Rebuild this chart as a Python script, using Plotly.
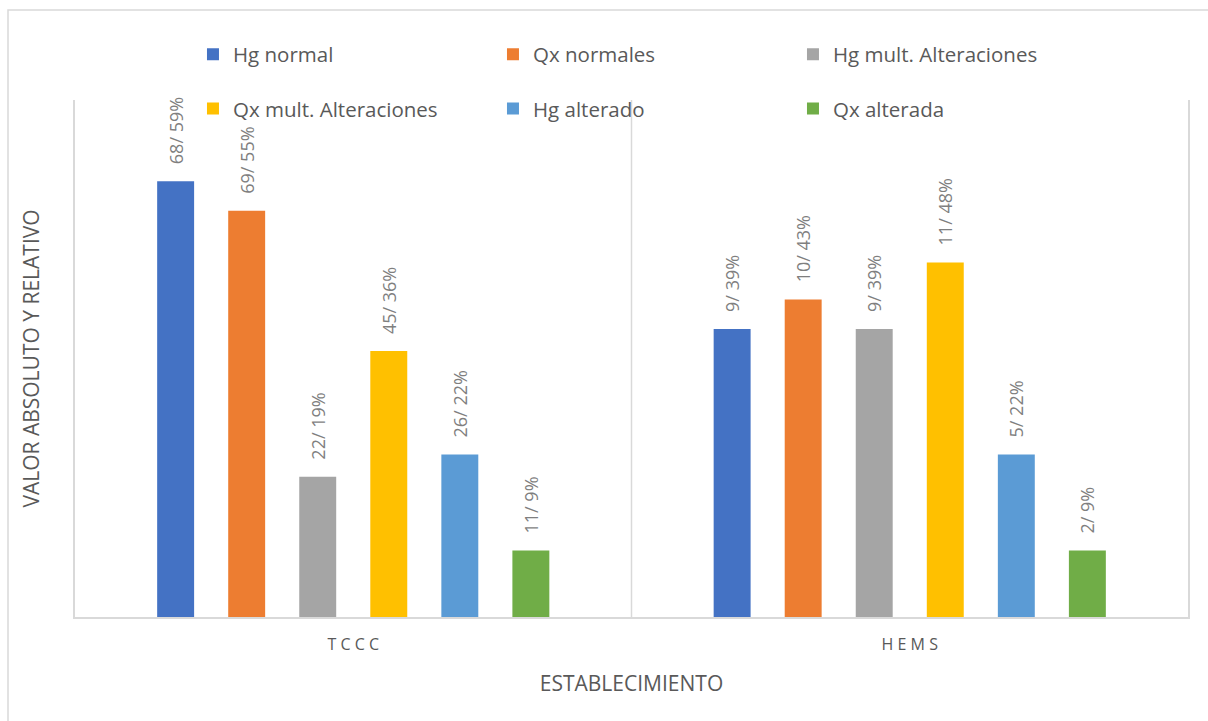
import plotly.graph_objects as go

# Establishments on the category axis
categories = ["TCCC", "HEMS"]
category_labels = ["T C C C", "H E M S"]

# Series names, absolute counts and relative percentages per establishment
series_names = [
    "Hg normal",
    "Qx normales",
    "Hg mult. Alteraciones",
    "Qx mult. Alteraciones",
    "Hg alterado",
    "Qx alterada",
]
counts = [
    [68, 9],
    [69, 10],
    [22, 9],
    [45, 11],
    [26, 5],
    [11, 2],
]
percents = [
    [59, 39],
    [55, 43],
    [19, 39],
    [36, 48],
    [22, 22],
    [9, 9],
]
colors = ["#4472C4", "#ED7D31", "#A5A5A5", "#FFC000", "#5B9BD5", "#70AD47"]

FONT = "Open Sans"
GREY = "#595959"

fig = go.Figure()
for i, name in enumerate(series_names):
    labels = ["\u00a0\u00a0\u00a0%d/ %d%%" % (c, p) for c, p in zip(counts[i], percents[i])]
    fig.add_trace(go.Bar(
        name=name,
        x=categories,
        y=percents[i],
        marker=dict(color=colors[i], line=dict(width=0)),
        text=labels,
        textposition="outside",
        textangle=-90,
        textfont=dict(family=FONT, size=18, color="#7F7F7F"),
        constraintext="none",
        cliponaxis=False,
        legend="legend" if i < 3 else "legend2",
    ))

legend_style = dict(
    orientation="h",
    font=dict(family=FONT, size=20.5, color=GREY),
    entrywidth=255,
    entrywidthmode="pixels",
    bgcolor="rgba(0,0,0,0)",
    xanchor="left",
    yanchor="middle",
    traceorder="normal",
)

fig.update_layout(
    width=1208,
    height=721,
    margin=dict(l=75, r=20, t=100, b=104),
    paper_bgcolor="white",
    plot_bgcolor="white",
    barmode="group",
    bargap=0.234,
    bargroupgap=0.48,
    showlegend=True,
    legend=dict(x=0.106, y=1.088, **legend_style),
    legend2=dict(x=0.106, y=0.983, **legend_style),
    xaxis=dict(
        tickmode="array",
        tickvals=categories,
        ticktext=category_labels,
        tickfont=dict(family=FONT, size=16, color=GREY),
        ticklabelstandoff=12,
        showline=True,
        linecolor="#D9D9D9",
        linewidth=1.5,
        showgrid=False,
        ticks="",
        title=dict(text="ESTABLECIMIENTO", font=dict(family=FONT, size=21, color=GREY), standoff=22),
    ),
    yaxis=dict(
        range=[0, 70],
        showticklabels=False,
        showgrid=False,
        zeroline=False,
        showline=True,
        mirror=True,
        linecolor="#D9D9D9",
        linewidth=1.5,
        ticks="",
        title=dict(text="VALOR ABSOLUTO Y RELATIVO", font=dict(family=FONT, size=21, color=GREY), standoff=28),
    ),
    shapes=[
        # divider between the two establishments
        dict(type="line", xref="x", yref="paper", x0=0.5, x1=0.5, y0=0, y1=1,
             line=dict(color="#D9D9D9", width=1.5), layer="below"),
        # chart frame
        dict(type="rect", xref="paper", yref="paper", x0=-0.0602, x1=1.03, y0=-0.25, y1=1.174,
             line=dict(color="#D9D9D9", width=1.5), fillcolor="rgba(0,0,0,0)", layer="below"),
    ],
)

fig.write_html("out.html")
